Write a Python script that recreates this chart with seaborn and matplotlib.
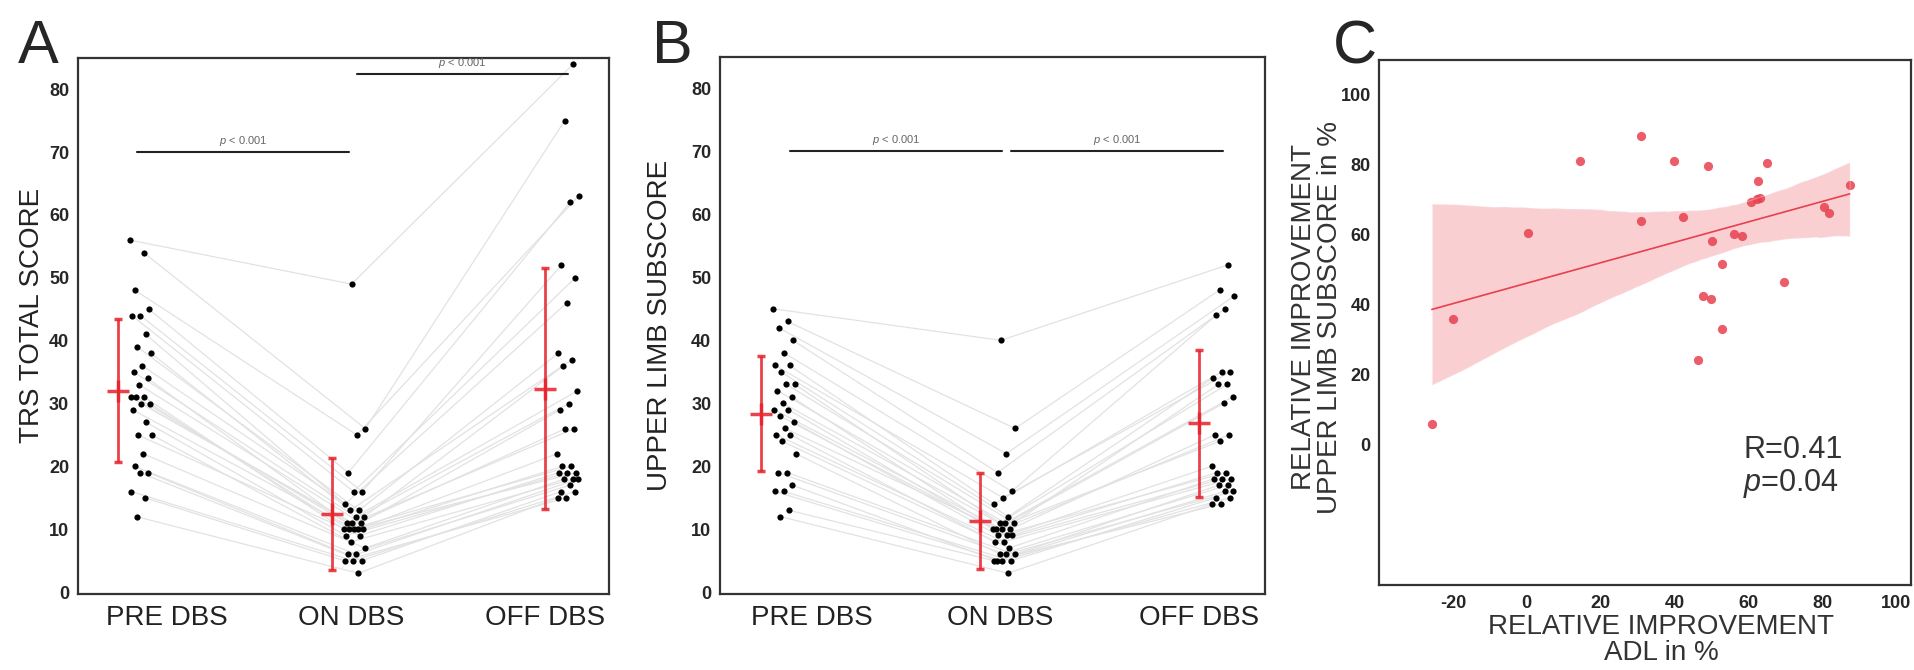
import numpy as np
import pandas as pd
import matplotlib
matplotlib.use("Agg")
import matplotlib.pyplot as plt
import seaborn as sns

conditions = ["PRE DBS", "ON DBS", "OFF DBS"]

# panel A - TRS total score per patient (each list sorted high to low)
trs_pre = [56, 54, 48, 45, 44, 44, 41, 39, 38, 36, 35, 34, 33, 31, 31, 31, 30, 30, 29, 27,
           25, 25, 22, 20, 19, 19, 16, 15, 12]
trs_on = [49, 26, 25, 19, 16, 16, 14, 13, 13, 12, 12, 11, 11, 11, 10, 10, 10, 10, 10, 9,
          9, 8, 7, 6, 6, 5, 5, 5, 3]
trs_off = [84, 75, 63, 62, 52, 50, 46, 38, 37, 36, 32, 30, 29, 26, 26, 22, 20, 20, 19, 19,
           19, 18, 18, 18, 17, 16, 16, 15, 15]

# panel B - upper limb subscore
ul_pre = [45, 43, 42, 40, 38, 36, 36, 35, 33, 33, 32, 31, 30, 29, 29, 28, 27, 26, 25, 25,
          24, 22, 19, 19, 17, 16, 16, 13, 12]
ul_on = [40, 26, 22, 19, 16, 15, 14, 12, 11, 11, 11, 10, 10, 10, 10, 9, 9, 9, 8, 8,
         7, 6, 6, 6, 5, 5, 5, 5, 3]
ul_off = [52, 48, 47, 45, 44, 35, 35, 34, 33, 33, 31, 30, 25, 25, 24, 20, 19, 19, 18, 18,
          18, 17, 17, 16, 16, 15, 15, 14, 14]

# panel C - relative improvement (%)
adl_impr = [-25.7, -19.9, 0.4, 14.3, 30.9, 30.9, 39.8, 42.3, 49.1, 50.1, 46.4, 47.7, 49.9,
            52.9, 52.9, 56.2, 58.3, 60.8, 62.4, 63.2, 62.7, 64.9, 69.7, 80.5, 81.7, 87.4]
ul_impr = [6.1, 35.9, 60.5, 81.1, 88.4, 64.1, 81.1, 65.0, 79.7, 58.4, 24.3, 42.6, 41.7,
           51.7, 33.1, 60.2, 59.6, 69.3, 70.3, 70.6, 75.4, 80.7, 46.6, 68.1, 66.3, 74.2]

RED = "#e8202a"
PINK = "#e8404f"

sns.set_style("white")
plt.rcParams["font.family"] = ["Liberation Sans", "DejaVu Sans"]
plt.rcParams["mathtext.fontset"] = "custom"
plt.rcParams["mathtext.it"] = "Liberation Sans:italic"
plt.rcParams["mathtext.rm"] = "Liberation Sans"
plt.rcParams["axes.unicode_minus"] = False


def style_frame(ax):
    for s in ax.spines.values():
        s.set_visible(True)
        s.set_color("#333333")
        s.set_linewidth(1.6)
    ax.tick_params(length=0)
    for lab in ax.get_yticklabels():
        lab.set_fontweight("bold")
        lab.set_fontsize(13)


def paired_panel(ax, pre, on, off, ylabel, bars):
    rows = []
    for k, vals in enumerate([pre, on, off]):
        for i, v in enumerate(vals):
            # deterministic spread of the dots to the right of each condition
            jit = 0.005 + 0.105 * ((i * 0.618 + k * 0.37) % 1)
            rows.append({"subject": i, "cond": conditions[k], "x": k + jit, "score": v})
    df = pd.DataFrame(rows)

    sns.lineplot(data=df, x="x", y="score", units="subject", estimator=None,
                 color="#e2e2e2", lw=0.9, ax=ax, zorder=1)
    sns.scatterplot(data=df, x="x", y="score", color="black", s=20, linewidth=0,
                    ax=ax, zorder=3)

    stats = df.groupby("cond", sort=False)["score"].agg(["mean", "std"])
    ax.errorbar(np.arange(3) - 0.05, stats["mean"], yerr=stats["std"], fmt="+",
                color=RED, ms=16, mew=2.5, elinewidth=2, capsize=3, capthick=1,
                alpha=0.85, zorder=4)

    for x0, x1, y in bars:
        ax.plot([x0, x1], [y, y], color="#222222", lw=1.5)
        ax.text((x0 + x1) / 2, y + 0.7, r"$p$ < 0.001", ha="center", va="bottom",
                fontsize=8, color="#666666")

    ax.set_xlim(-0.24, 2.25)
    ax.set_ylim(-0.3, 85)
    ax.set_yticks(range(0, 81, 10))
    ax.set_xticks([0.18, 1.04, 1.95], conditions, fontsize=20, color="#222222")
    ax.set_xlabel("")
    ax.set_ylabel(ylabel, fontsize=20, color="#222222")
    style_frame(ax)
    ax.tick_params(axis="x", pad=8)
    ax.tick_params(axis="y", pad=6)


fig = plt.figure(figsize=(19.15, 6.70), dpi=100)
ax_a = fig.add_axes([0.0405, 0.1134, 0.2775, 0.8004])
ax_b = fig.add_axes([0.3758, 0.1134, 0.2848, 0.8015])
ax_c = fig.add_axes([0.7201, 0.1269, 0.2778, 0.7836])

paired_panel(ax_a, trs_pre, trs_on, trs_off, "TRS TOTAL SCORE",
             [(0.04, 1.03, 70), (1.07, 2.06, 82.4)])
ax_a.yaxis.set_label_coords(-0.062, 0.52)

paired_panel(ax_b, ul_pre, ul_on, ul_off, "UPPER LIMB SUBSCORE",
             [(0.08, 1.05, 70), (1.09, 2.06, 70)])
ax_b.yaxis.set_label_coords(-0.085, 0.5)

# panel C - correlation
sns.regplot(x=adl_impr, y=ul_impr, ax=ax_c, color=PINK, ci=95, seed=1,
            scatter_kws=dict(s=44, alpha=0.85, linewidths=0),
            line_kws=dict(lw=1.2))
for coll in ax_c.collections:
    if isinstance(coll, matplotlib.collections.PolyCollection):
        coll.set_alpha(0.25)
ax_c.set_xlim(-40, 104)
ax_c.set_ylim(-40, 110)
ax_c.set_xticks(range(-20, 101, 20))
ax_c.set_yticks(range(0, 101, 20))
ax_c.set_xlabel("RELATIVE IMPROVEMENT\nADL in %", fontsize=20, color="#333333",
                linespacing=1.0)
ax_c.set_ylabel("RELATIVE IMPROVEMENT\nUPPER LIMB SUBSCORE in %", fontsize=20,
                color="#333333", linespacing=1.0)
style_frame(ax_c)
for lab in ax_c.get_xticklabels():
    lab.set_fontweight("bold")
    lab.set_fontsize(13)
ax_c.tick_params(axis="x", pad=7)
ax_c.tick_params(axis="y", pad=6)
ax_c.xaxis.set_label_coords(0.53, -0.055)
ax_c.yaxis.set_label_coords(-0.068, 0.51)
ax_c.text(0.685, 0.242, "R=0.41", transform=ax_c.transAxes, fontsize=22,
          color="#333333", va="baseline")
ax_c.text(0.685, 0.179, r"$p$=0.04", transform=ax_c.transAxes, fontsize=22,
          color="#333333", va="baseline")

# panel letters
for x, lab in [(18, "A"), (652, "B"), (1333, "C")]:
    fig.text(x / 1915, 1 - 63 / 670, lab, fontsize=44, va="baseline", ha="left")

fig.savefig("out.png", dpi=100)
